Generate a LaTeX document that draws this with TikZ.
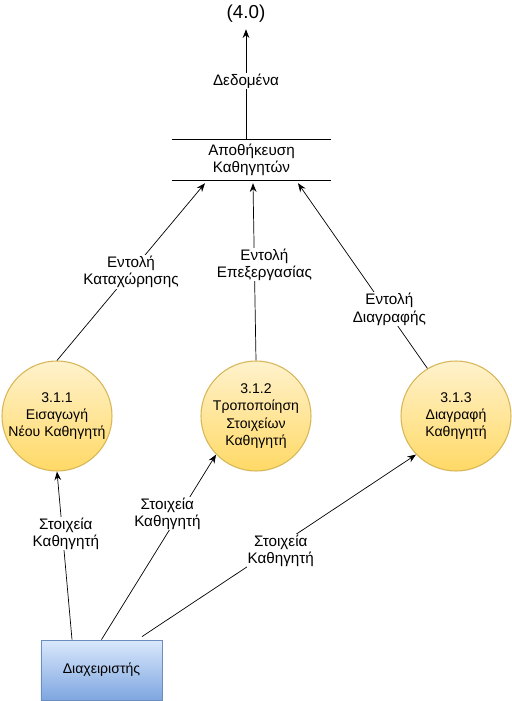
\documentclass[tikz,border=0pt]{standalone}
\usepackage{fontspec}
\setmainfont{Liberation Sans}
\usetikzlibrary{arrows.meta}
\definecolor{proctop}{HTML}{FFF2CC}
\definecolor{procbot}{HTML}{FFD966}
\definecolor{procline}{HTML}{D6B656}
\definecolor{agenttop}{HTML}{DAE8FC}
\definecolor{agentbot}{HTML}{7EA6E0}
\definecolor{agentline}{HTML}{6C8EBF}
\tikzset{
  process/.style={circle, minimum size=3.3cm, inner sep=0pt, top color=proctop, bottom color=procbot, draw=procline, line width=0.9pt, align=center, font=\fontsize{12}{14.8}\selectfont},
  agent/.style={rectangle, minimum width=3.63cm, minimum height=1.8cm, top color=agenttop, bottom color=agentbot, draw=agentline, line width=0.7pt, font=\fontsize{12}{14}\selectfont},
  datastore/.style={minimum width=4.77cm, minimum height=1.2cm, inner sep=0pt, align=center, font=\fontsize{13}{15}\selectfont},
  storeline/.style={line width=0.7pt, draw=black},
  flow/.style={line width=0.6pt, draw=black, -{Stealth[length=2.6mm, width=2mm]}},
  flowlabel/.style={fill=white, align=center, inner sep=0.5pt, font=\fontsize{13}{15}\selectfont},
  extlabel/.style={font=\fontsize{16}{19}\selectfont, inner sep=2pt},
}

\begin{document}
\begin{tikzpicture}[x=0.03cm, y=-0.03cm]
\useasboundingbox (0,0) rectangle (512,701);
\node[extlabel] (ext) at (246,14) {(4.0)};
\node[datastore] (store) at (251.5,160) {Αποθήκευση\\Καθηγητών};
\draw[storeline] (store.north west) -- (store.north east);
\draw[storeline] (store.south west) -- (store.south east);
\node[process] (p1) at (57,416) {3.1.1\\Εισαγωγή\\Νέου Καθηγητή};
\node[process] (p2) at (256,416) {3.1.2\\Τροποποίηση\\Στοιχείων\\Καθηγητή};
\node[process] (p3) at (456,416) {3.1.3\\Διαγραφή\\Καθηγητή};
\node[agent] (admin) at (101.5,670) {Διαχειριστής};
\draw[flow] ([xshift=-0.165cm]store.north) -- ([yshift=-0.12cm]ext.south) node[flowlabel, pos=0.53] {Δεδομένα};
\draw[flow] (p1.north) -- ([xshift=-1.395cm, yshift=-0.09cm]store.south) node[flowlabel, pos=0.5] {Εντολή\\Καταχώρησης};
\draw[flow] (p2.north) -- ([xshift=0.045cm, yshift=-0.09cm]store.south) node[flowlabel, pos=0.54, xshift=0.3cm] {Εντολή\\Επεξεργασίας};
\draw[flow] (p3.121) -- ([xshift=1.395cm, yshift=-0.09cm]store.south) node[flowlabel, pos=0.32, xshift=0.1cm] {Εντολή\\Διαγραφής};
\draw[flow] ([xshift=-0.885cm]admin.north) -- (p1.south) node[flowlabel, pos=0.63, xshift=0.1cm] {Στοιχεία\\Καθηγητή};
\draw[flow] (admin.north) -- (p2.224) node[flowlabel, pos=0.68, xshift=-0.36cm] {Στοιχεία\\Καθηγητή};
\draw[flow] ([xshift=1.215cm, yshift=0.09cm]admin.north) -- (p3.224) node[flowlabel, pos=0.47, xshift=0.3cm] {Στοιχεία\\Καθηγητή};
\end{tikzpicture}
\end{document}
